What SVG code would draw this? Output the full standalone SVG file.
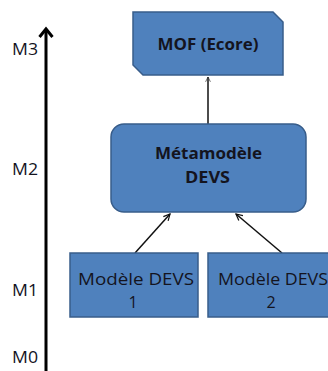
<svg xmlns="http://www.w3.org/2000/svg" width="328" height="371" viewBox="0 0 328 371">
<defs>
<style>
.box{fill:#4F81BD;stroke:#385D8A;stroke-width:1.5}
.t{font-family:"Open Sans","Liberation Sans",sans-serif;font-size:16px;fill:#14141e;text-anchor:middle}
.b{font-weight:bold}
.lbl{font-family:"Open Sans","Liberation Sans",sans-serif;font-size:16px;fill:#14141e}
.con{stroke:#111;stroke-width:1.5;fill:none}
</style>
<marker id="ah" viewBox="0 0 10 10" refX="9" refY="5" markerWidth="8" markerHeight="8" orient="auto" markerUnits="userSpaceOnUse">
<path d="M1,1 L9,5 L1,9" fill="none" stroke="#111" stroke-width="1.5"/>
</marker>
<marker id="ah2" viewBox="0 0 10 10" refX="9" refY="5" markerWidth="6" markerHeight="6" orient="auto" markerUnits="userSpaceOnUse">
<path d="M1,1 L9,5 L1,9" fill="none" stroke="#333" stroke-width="1.2"/>
</marker>
</defs>
<rect width="328" height="371" fill="#fff"/>
<g id="axis">
<line x1="46" y1="371" x2="46" y2="30" stroke="#000" stroke-width="3"/>
<path d="M39.5,37 L46,29 L52.5,37" fill="none" stroke="#000" stroke-width="3"/>
<text class="lbl" x="12" y="55" textLength="26" lengthAdjust="spacingAndGlyphs">M3</text>
<text class="lbl" x="12" y="175" textLength="26" lengthAdjust="spacingAndGlyphs">M2</text>
<text class="lbl" x="12" y="296" textLength="26" lengthAdjust="spacingAndGlyphs">M1</text>
<text class="lbl" x="12" y="363" textLength="26" lengthAdjust="spacingAndGlyphs">M0</text>
</g>
<g id="connectors">
<line class="con" x1="208" y1="124" x2="208" y2="77" stroke-width="0.8" stroke="#333" marker-end="url(#ah2)"/>
<line class="con" x1="135" y1="253" x2="170" y2="214" marker-end="url(#ah)"/>
<line class="con" x1="282" y1="253" x2="236" y2="214" marker-end="url(#ah)"/>
</g>
<g id="mof">
<path class="box" d="M133,12 H273 L283,22 V75 H143 L133,65 Z"/>
<text class="t b" x="208" y="50" textLength="101" lengthAdjust="spacingAndGlyphs">MOF (Ecore)</text>
</g>
<g id="metamodele">
<rect class="box" x="111" y="124" width="195" height="88" rx="13"/>
<text class="t b" x="208.5" y="159" textLength="107" lengthAdjust="spacingAndGlyphs">Métamodèle</text>
<text class="t b" x="207.5" y="183" textLength="45" lengthAdjust="spacingAndGlyphs">DEVS</text>
</g>
<g id="modele1">
<rect class="box" x="70" y="253" width="128" height="64"/>
<text class="t" x="136" y="285" textLength="116" lengthAdjust="spacingAndGlyphs">Modèle DEVS</text>
<text class="t" x="133" y="308">1</text>
</g>
<g id="modele2">
<rect class="box" x="208" y="253" width="125" height="64"/>
<text class="t" x="273" y="285" textLength="110" lengthAdjust="spacingAndGlyphs">Modèle DEVS</text>
<text class="t" x="271" y="308">2</text>
</g>
</svg>
